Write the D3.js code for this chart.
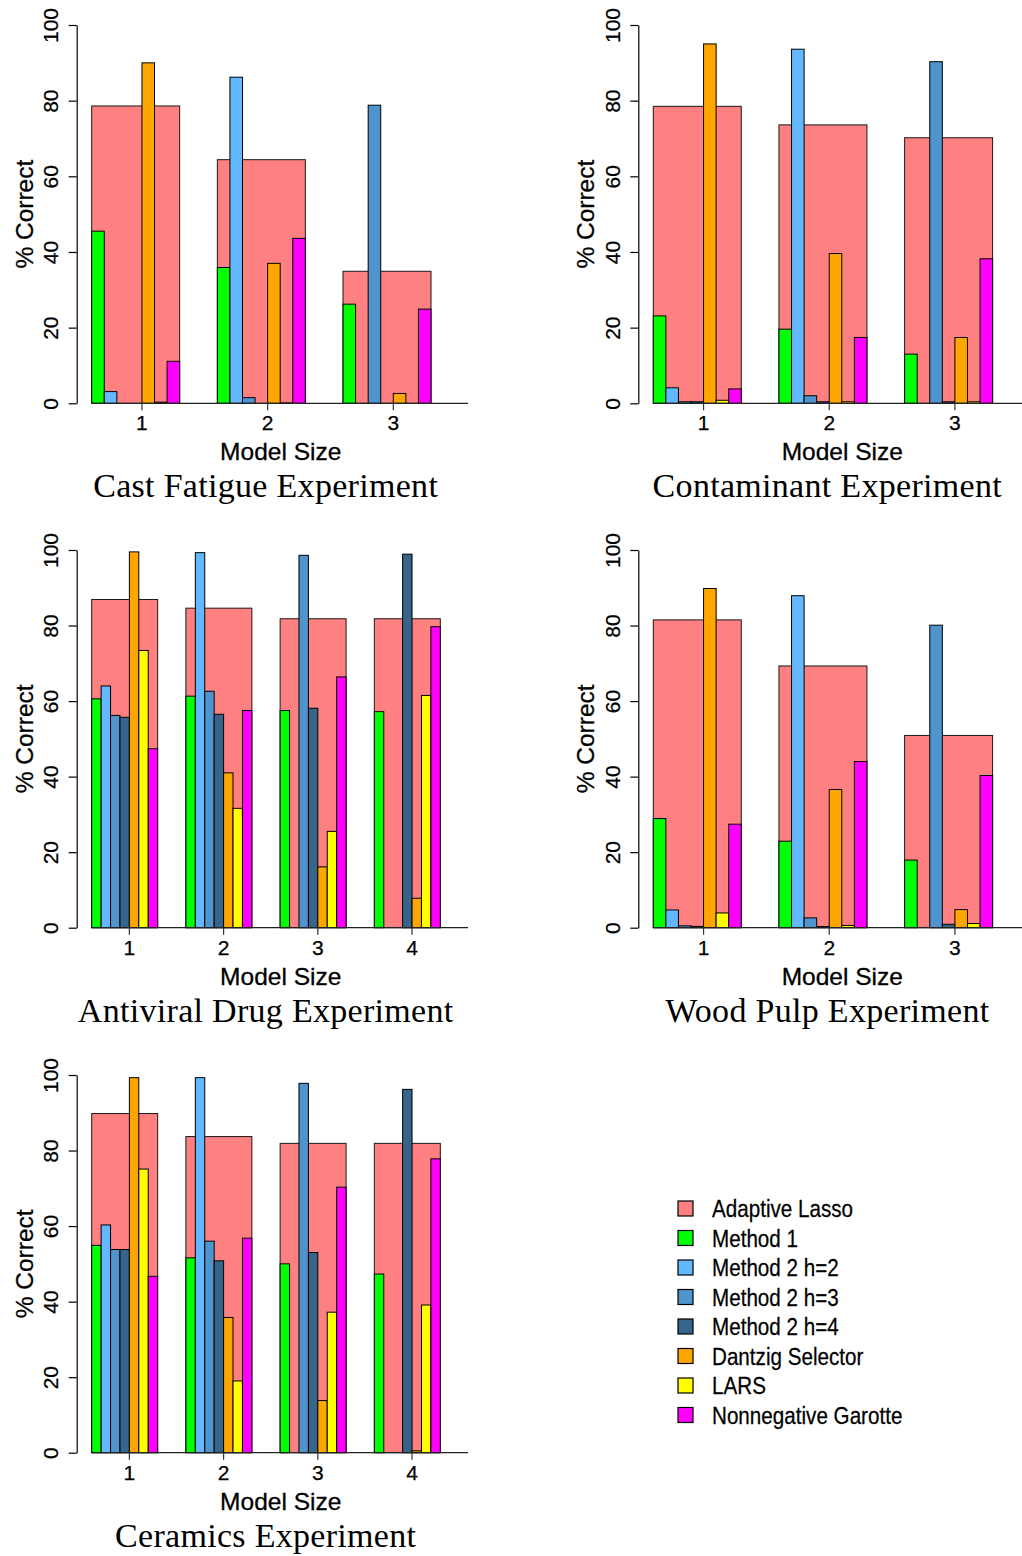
<!DOCTYPE html>
<html>
<head>
<meta charset="utf-8">
<script src="https://cdn.jsdelivr.net/npm/d3@7"></script>
<style>
  html, body { margin: 0; padding: 0; background: #fff; }
  svg { display: block; }
</style>
</head>
<body>
<svg id="chart" width="1022" height="1556"></svg>
<script>
// ---------------- DATA ----------------
const seriesNames = ["Adaptive Lasso", "Method 1", "Method 2 h=2", "Method 2 h=3",
                     "Method 2 h=4", "Dantzig Selector", "LARS", "Nonnegative Garotte"];
const seriesColors = ["#FF8080", "#00FF00", "#63B8FF", "#4F94CD",
                      "#36648B", "#FFA500", "#FFFF00", "#FF00FF"];
const yTicks = [0, 20, 40, 60, 80, 100];

// Cast Fatigue (model sizes 1..3)
const castSizes = ["1", "2", "3"];
const castLasso = [78.6, 64.4, 34.9];
// rows: Method 1, M2 h=2, M2 h=3, M2 h=4, Dantzig, LARS, NN Garotte
const castBars = [
  [45.5, 35.9, 26.2],
  [3.1, 86.2, 0],
  [0, 1.5, 78.8],
  [0, 0, 0],
  [90.0, 37.0, 2.6],
  [0.3, 0.1, 0],
  [11.1, 43.6, 24.9]
];

// Contaminant
const contSizes = ["1", "2", "3"];
const contLasso = [78.5, 73.6, 70.2];
const contBars = [
  [23.1, 19.6, 13.0],
  [4.1, 93.6, 0],
  [0.4, 2.0, 90.3],
  [0.4, 0.4, 0.4],
  [95.0, 39.6, 17.4],
  [0.8, 0.4, 0.4],
  [3.8, 17.4, 38.2]
];

// Antiviral Drug
const antiSizes = ["1", "2", "3", "4"];
const antiLasso = [86.9, 84.6, 81.8, 81.8];
const antiBars = [
  [60.6, 61.3, 57.5, 57.2],
  [64.0, 99.3, 0, 0],
  [56.2, 62.6, 98.6, 0],
  [55.7, 56.5, 58.1, 98.9],
  [99.5, 41.0, 16.1, 7.8],
  [73.4, 31.6, 25.5, 61.5],
  [47.4, 57.5, 66.4, 79.7]
];

// Wood Pulp
const woodSizes = ["1", "2", "3"];
const woodLasso = [81.5, 69.3, 50.9];
const woodBars = [
  [28.9, 22.9, 17.9],
  [4.7, 87.9, 0],
  [0.5, 2.6, 80.1],
  [0.35, 0.3, 0.9],
  [89.8, 36.6, 4.8],
  [3.9, 0.6, 1.1],
  [27.4, 44.0, 40.3]
];

// Ceramics
const ceramSizes = ["1", "2", "3", "4"];
const ceramLasso = [89.8, 83.7, 81.9, 81.9];
const ceramBars = [
  [54.9, 51.6, 50.0, 47.3],
  [60.3, 99.3, 0, 0],
  [53.8, 56.0, 97.8, 0],
  [53.8, 50.8, 53.0, 96.2],
  [99.3, 35.8, 13.8, 0.5],
  [75.1, 19.0, 37.2, 39.1],
  [46.7, 56.8, 70.3, 77.8]
];

const titles = ["Cast Fatigue Experiment", "Contaminant Experiment",
                "Antiviral Drug Experiment", "Wood Pulp Experiment", "Ceramics Experiment"];

// ---------------- LAYOUT ----------------
const panels = [
  {title: titles[0], sizes: castSizes, lasso: castLasso, bars: castBars, ax: 76.7, y0: 403.3, y1: 25},
  {title: titles[1], sizes: contSizes, lasso: contLasso, bars: contBars, ax: 638.3, y0: 403.3, y1: 25},
  {title: titles[2], sizes: antiSizes, lasso: antiLasso, bars: antiBars, ax: 76.7, y0: 927.7, y1: 550},
  {title: titles[3], sizes: woodSizes, lasso: woodLasso, bars: woodBars, ax: 638.3, y0: 927.7, y1: 550},
  {title: titles[4], sizes: ceramSizes, lasso: ceramLasso, bars: ceramBars, ax: 76.7, y0: 1452.7, y1: 1075}
];

const svg = d3.select("#chart");
svg.append("rect").attr("width", 1022).attr("height", 1556).attr("fill", "#fff");

const sans = "'Liberation Sans', Arial, Helvetica, sans-serif";
const serif = "'Liberation Serif', 'Times New Roman', serif";

panels.forEach(p => {
  const g = svg.append("g");
  const n = p.sizes.length;
  const left = p.ax + 15;
  const span = n === 3 ? 339.3 : 348.6;
  const xg = d3.scaleBand().domain(p.sizes).range([left, left + span])
               .paddingInner(0.3).paddingOuter(0);
  const xi = d3.scaleBand().domain(d3.range(7)).range([0, xg.bandwidth()]).padding(0);
  const y = d3.scaleLinear().domain([0, 100]).range([p.y0, p.y1]);

  // wide Adaptive Lasso bars
  g.selectAll("rect.lasso").data(p.sizes).join("rect")
    .attr("class", "lasso")
    .attr("x", d => xg(d))
    .attr("width", xg.bandwidth())
    .attr("y", (d, i) => y(p.lasso[i]))
    .attr("height", (d, i) => y(0) - y(p.lasso[i]))
    .attr("fill", seriesColors[0])
    .attr("stroke", "#1a1a1a").attr("stroke-width", 1);

  // method bars
  p.bars.forEach((row, s) => {
    g.selectAll("rect.s" + s).data(p.sizes).join("rect")
      .attr("class", "s" + s)
      .attr("x", d => xg(d) + xi(s))
      .attr("width", xi.bandwidth())
      .attr("y", (d, i) => y(row[i]))
      .attr("height", (d, i) => y(0) - y(row[i]))
      .attr("fill", seriesColors[s + 1])
      .attr("stroke", "#000").attr("stroke-width", 1);
  });

  // x baseline
  g.append("line")
    .attr("x1", left).attr("x2", p.ax + 391.3)
    .attr("y1", y(0)).attr("y2", y(0))
    .attr("stroke", "#222").attr("stroke-width", 1.3);

  // x ticks
  p.sizes.forEach(s => {
    const tx = xg(s) + xi(4);
    g.append("line").attr("x1", tx).attr("x2", tx)
      .attr("y1", y(0)).attr("y2", y(0) + 7)
      .attr("stroke", "#333").attr("stroke-width", 1.2);
    g.append("text").attr("x", tx).attr("y", y(0) + 27)
      .attr("text-anchor", "middle")
      .attr("font-family", sans).attr("font-size", 21).attr("fill", "#000")
      .attr("stroke", "#000").attr("stroke-width", 0.25)
      .text(s);
  });

  // y axis
  const yAxis = d3.axisLeft(y).tickValues(yTicks).tickSize(8).tickSizeOuter(0).tickPadding(0);
  const ya = g.append("g").attr("transform", `translate(${p.ax},0)`).call(yAxis);
  ya.select(".domain").attr("stroke", "#000").attr("stroke-width", 1.2);
  ya.selectAll(".tick line").attr("stroke", "#000").attr("stroke-width", 1.2);
  ya.selectAll(".tick text")
    .attr("x", null).attr("dy", null)
    .attr("transform", `translate(${-18.5},0) rotate(-90)`)
    .attr("text-anchor", "middle")
    .attr("font-family", sans).attr("font-size", 21).attr("fill", "#000")
    .attr("stroke", "#000").attr("stroke-width", 0.25);

  // y label
  const ymid = (p.y0 + p.y1) / 2;
  g.append("text")
    .attr("transform", `translate(${p.ax - 44},${ymid}) rotate(-90)`)
    .attr("text-anchor", "middle")
    .attr("font-family", sans).attr("font-size", 24.5).attr("fill", "#000")
    .attr("stroke", "#000").attr("stroke-width", 0.3)
    .text("% Correct");

  // x label
  g.append("text")
    .attr("x", p.ax + 204).attr("y", p.y0 + 57)
    .attr("text-anchor", "middle")
    .attr("font-family", sans).attr("font-size", 24.5).attr("fill", "#000")
    .attr("stroke", "#000").attr("stroke-width", 0.3)
    .text("Model Size");

  // title
  g.append("text")
    .attr("x", p.ax + 189).attr("y", p.y0 + 94)
    .attr("text-anchor", "middle")
    .attr("font-family", serif).attr("font-size", 34).attr("fill", "#000")
    .attr("letter-spacing", 0.3)
    .text(p.title);
});

// ---------------- LEGEND ----------------
const leg = svg.append("g");
const ly = d3.scaleLinear().domain([0, seriesNames.length - 1]).range([1208.5, 1415]);
seriesNames.forEach((name, i) => {
  leg.append("rect")
    .attr("x", 678).attr("y", ly(i) - 7.5)
    .attr("width", 15).attr("height", 15)
    .attr("fill", seriesColors[i]).attr("stroke", "#000").attr("stroke-width", 1.2);
  leg.append("text")
    .attr("transform", `translate(712,${ly(i)}) scale(0.86,1)`)
    .attr("dy", "0.36em")
    .attr("font-family", sans).attr("font-size", 24).attr("fill", "#000")
    .attr("stroke", "#000").attr("stroke-width", 0.25)
    .text(name);
});
</script>
</body>
</html>
